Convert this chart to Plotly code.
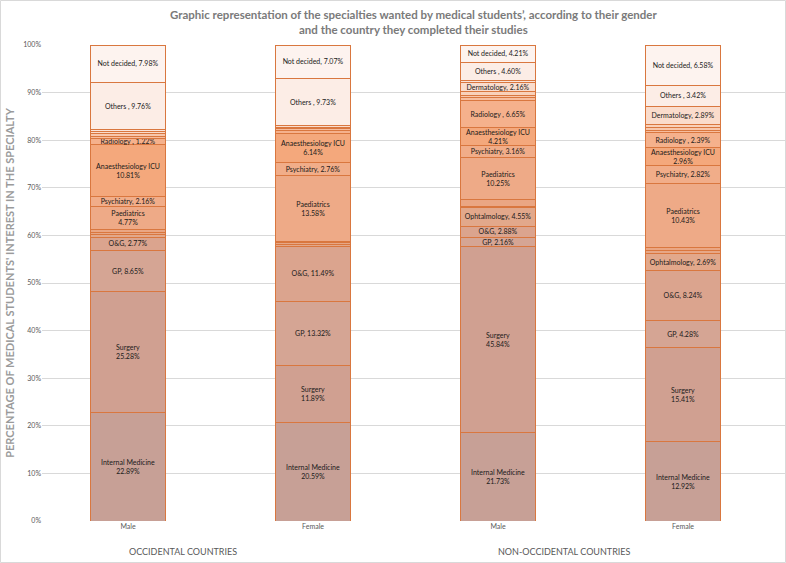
import plotly.graph_objects as go

# bars: occidental male/female, non-occidental male/female
bar_ticks = ["Male", "Female", "Male", "Female"]
groups = ["OCCIDENTAL COUNTRIES", "NON-OCCIDENTAL COUNTRIES"]

# specialties from bottom to top of the stack (small unlabeled ones estimated)
specialties = [
    "Internal Medicine", "Surgery", "GP", "O&G", "Ophtalmology",
    "Cardiology", "Neurology", "Paediatrics", "Psychiatry",
    "Anaesthesiology ICU", "Radiology", "Orthopaedics", "ENT", "Oncology",
    "Dermatology", "Emergency", "Others", "Not decided",
]

internal_medicine = [22.89, 20.59, 21.73, 12.92]
surgery = [25.28, 11.89, 45.84, 15.41]
gp = [8.65, 13.32, 2.16, 4.28]
obgyn = [2.77, 11.49, 2.88, 8.24]
ophtalmology = [0.5, 0.35, 4.55, 2.69]
cardiology = [0.6, 0.4, 0.4, 0.55]
neurology = [0.6, 0.35, 1.6, 0.55]
paediatrics = [4.77, 13.58, 10.25, 10.43]
psychiatry = [2.16, 2.76, 3.16, 2.82]
anaesthesiology = [10.81, 6.14, 4.21, 2.96]
radiology = [1.22, 0.5, 6.65, 2.39]
orthopaedics = [0.6, 0.4, 0.8, 0.45]
ent = [0.5, 0.3, 0.5, 0.45]
oncology = [0.0, 0.0, 1.0, 0.55]
dermatology = [0.5, 0.4, 2.16, 2.89]
emergency = [0.4, 0.0, 0.5, 0.0]
others = [9.76, 9.73, 4.60, 3.42]
not_decided = [7.98, 7.07, 4.21, 6.58]

values = [
    internal_medicine, surgery, gp, obgyn, ophtalmology, cardiology, neurology,
    paediatrics, psychiatry, anaesthesiology, radiology, orthopaedics, ent,
    oncology, dermatology, emergency, others, not_decided,
]

# which bars carry a data label for each specialty
labelled = {
    "Internal Medicine": [1, 1, 1, 1],
    "Surgery": [1, 1, 1, 1],
    "GP": [1, 1, 1, 1],
    "O&G": [1, 1, 1, 1],
    "Ophtalmology": [0, 0, 1, 1],
    "Paediatrics": [1, 1, 1, 1],
    "Psychiatry": [1, 1, 1, 1],
    "Anaesthesiology ICU": [1, 1, 1, 1],
    "Radiology": [1, 0, 1, 1],
    "Dermatology": [0, 0, 1, 1],
    "Others": [1, 1, 1, 1],
    "Not decided": [1, 1, 1, 1],
}
two_line = ["Internal Medicine", "Surgery", "Paediatrics", "Anaesthesiology ICU"]
spaced_comma = ["Radiology", "Others"]

colors = [
    "#c7a096", "#d0a091", "#d5a594", "#dba48e", "#e2a88b", "#e7a786",
    "#eaa683", "#eeaa87", "#f1ad89", "#f4a87c", "#f5b18c", "#f7bd9e",
    "#f8c7ac", "#f9d1ba", "#fadccc", "#fbe5da", "#fcede6", "#fdf3ef",
]

x_pos = [0, 1, 2, 3]

fig = go.Figure()

for name, vals, col in zip(specialties, values, colors):
    texts = []
    flags = labelled.get(name, [0, 0, 0, 0])
    for v, f in zip(vals, flags):
        if not f:
            texts.append("")
        elif name in two_line:
            texts.append(f"{name}<br>{v:.2f}%")
        elif name in spaced_comma:
            texts.append(f"{name} , {v:.2f}%")
        else:
            texts.append(f"{name}, {v:.2f}%")
    fig.add_trace(
        go.Bar(
            x=x_pos,
            y=vals,
            name=name,
            text=texts,
            textposition="inside",
            insidetextanchor="middle",
            textangle=0,
            constraintext="none",
            textfont=dict(size=7, color="#1a1a1a", family="Lato"),
            marker=dict(color=col, line=dict(color="#d9773f", width=1)),
            width=0.405,
            hovertemplate=name + ": %{y:.2f}<extra></extra>",
        )
    )

# country group labels under the bars
for label, xc in zip(groups, [0.297, 2.357]):
    fig.add_annotation(
        x=xc, y=-30 / 476, xref="x", yref="paper",
        xanchor="center", yanchor="middle",
        text=label, showarrow=False,
        font=dict(size=9, color="#595959", family="Lato"),
    )

# title as two centred lines above the plot
fig.add_annotation(
    x=0.5, y=1 + 23 / 476, xref="paper", yref="paper",
    xanchor="center", yanchor="middle",
    text="<b>Graphic representation of the specialties wanted by medical students’, according to their gender"
         "<br>and the country they completed their studies</b>",
    showarrow=False,
    font=dict(size=11.5, color="#7a7a7a", family="Lato"),
)

# chart border
fig.add_shape(
    type="rect", xref="paper", yref="paper",
    x0=-41.5 / 743, x1=1 + 0.5 / 743, y0=-41.5 / 476, y1=1 + 44.5 / 476,
    line=dict(color="#d9d9d9", width=1),
)

fig.update_layout(
    width=786,
    height=563,
    barmode="stack",
    barnorm="percent",
    showlegend=False,
    plot_bgcolor="white",
    paper_bgcolor="white",
    margin=dict(l=42, r=1, t=45, b=42),
    font=dict(family="Lato", color="#595959"),
    xaxis=dict(
        tickvals=x_pos,
        ticktext=bar_ticks,
        range=[-0.465, 3.551],
        showgrid=False,
        showline=False,
        ticks="",
        tickfont=dict(size=7, color="#595959"),
    ),
    yaxis=dict(
        range=[0, 100],
        dtick=10,
        ticksuffix="%",
        showgrid=True,
        gridcolor="#d9d9d9",
        zeroline=False,
        tickfont=dict(size=7, color="#595959"),
        title=dict(
            text="<b>PERCENTAGE OF MEDICAL STUDENTS' INTEREST IN THE SPECIALTY</b>",
            font=dict(size=11, color="#9a9a9a", family="Lato"),
            standoff=6,
        ),
    ),
)

# drop the default page margin so the figure sits at the window's corner
fig.write_html(
    "out.html",
    config={"displayModeBar": False},
    post_script="document.body.style.margin='0';",
)
